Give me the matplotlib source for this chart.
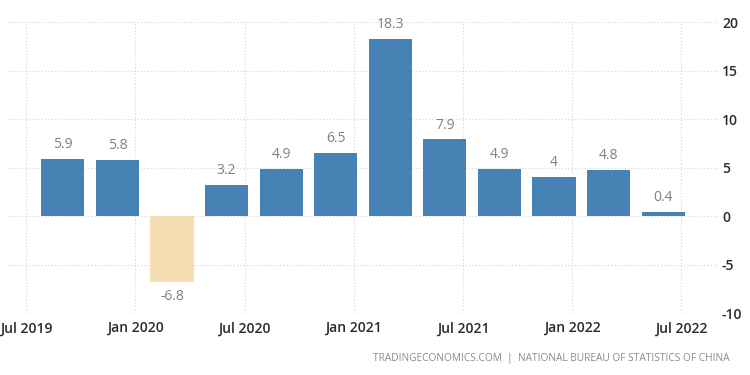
import matplotlib
matplotlib.use('Agg')
import matplotlib.pyplot as plt

plt.rcParams['font.family'] = ['Open Sans', 'DejaVu Sans']

# China GDP growth rate, quarter on quarter (Q3 2019 .. Q2 2022)
quarters = ['Q3 2019', 'Q4 2019', 'Q1 2020', 'Q2 2020', 'Q3 2020', 'Q4 2020',
            'Q1 2021', 'Q2 2021', 'Q3 2021', 'Q4 2021', 'Q1 2022', 'Q2 2022']
growth = [5.9, 5.8, -6.8, 3.2, 4.9, 6.5, 18.3, 7.9, 4.9, 4, 4.8, 0.4]
tick_labels = ['Jul 2019', 'Jan 2020', 'Jul 2020', 'Jan 2021',
               'Jul 2021', 'Jan 2022', 'Jul 2022']
y_ticks = [-10, -5, 0, 5, 10, 15, 20]

fig = plt.figure(figsize=(7.5, 3.75), dpi=100)
ax = fig.add_axes([0.011, 0.165, 0.946, 0.776])

xs = list(range(len(growth)))
colors = ['#4682b4' if v >= 0 else '#f5deb3' for v in growth]
bars = ax.bar(xs, growth, width=0.79, color=colors, zorder=2)

for x, v in zip(xs, growth):
    txt = f'{v:g}'
    if v >= 0:
        ax.annotate(txt, (x, v), xytext=(0, 5), textcoords='offset points',
                    ha='center', va='bottom', fontsize=10, color='#808080')
    else:
        ax.annotate(txt, (x, v), xytext=(0, -5), textcoords='offset points',
                    ha='center', va='top', fontsize=10, color='#808080')

# half-year ticks sit between quarters
tick_pos = [-0.67 + 2 * k for k in range(len(tick_labels))]
ax.set_xticks(tick_pos)
ax.set_xticklabels(tick_labels, fontsize=10, color='#2b2b2b', fontweight='semibold')
ax.set_xlim(-1, 12)

ax.set_ylim(-10, 20)
ax.set_yticks(y_ticks)
ax.set_yticklabels([str(t) for t in y_ticks], fontweight='semibold')
ax.yaxis.tick_right()
ax.tick_params(axis='y', labelsize=10, labelcolor='#2b2b2b', length=0, pad=3)
ax.tick_params(axis='x', length=0, pad=6)

ax.grid(True, color='#d9d9d9', linestyle=':', linewidth=0.9, zorder=0)
ax.set_axisbelow(True)
for s in ax.spines.values():
    s.set_visible(False)

fig.text(0.973, 0.045,
         'TRADINGECONOMICS.COM  |  NATIONAL BUREAU OF STATISTICS OF CHINA',
         ha='right', va='center', fontsize=7.3, color='#8a8a8a')

fig.savefig('out.png', dpi=100)
